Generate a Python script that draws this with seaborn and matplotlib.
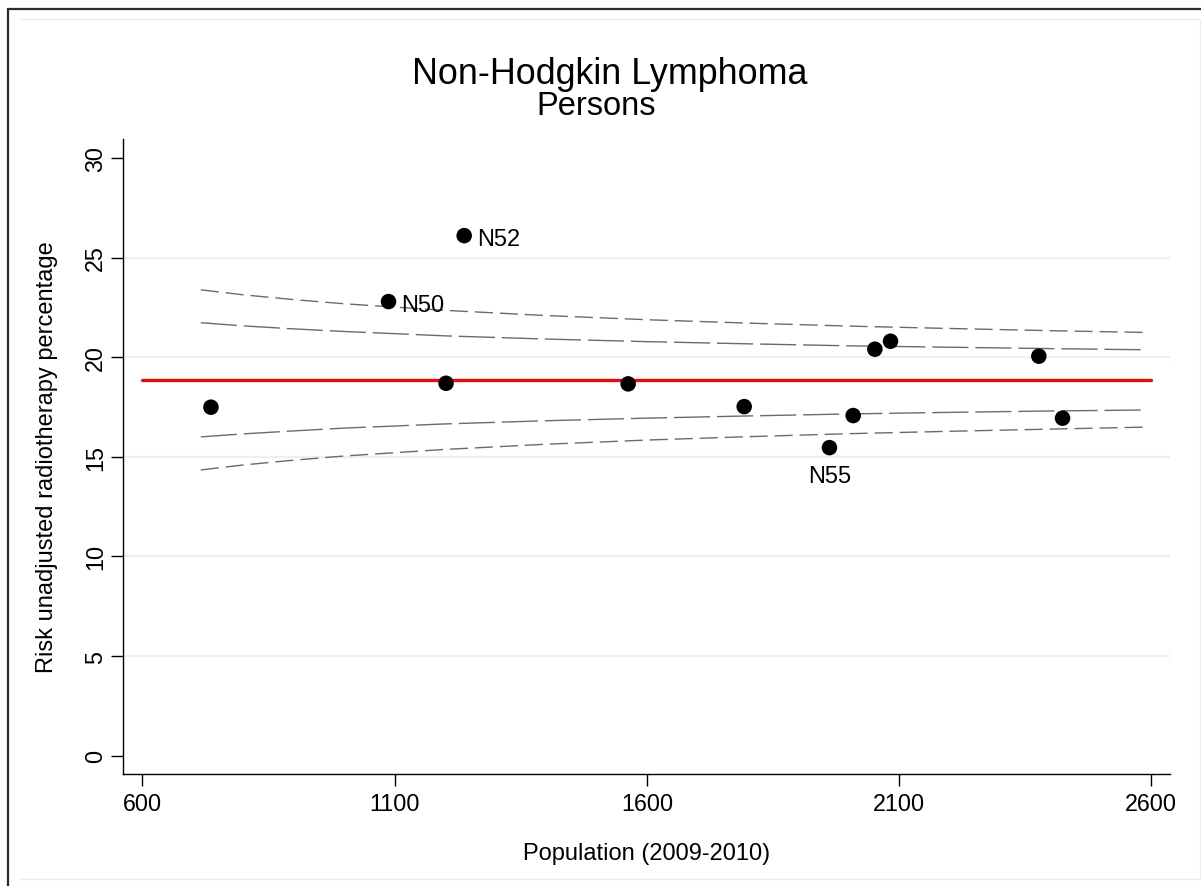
import numpy as np
import pandas as pd
import matplotlib
matplotlib.use("Agg")
import matplotlib.pyplot as plt
from matplotlib.lines import Line2D
import seaborn as sns

# ---------------- data ----------------
population = [736, 1088, 1238, 1202, 1563, 1793, 1962, 2009, 2052, 2083, 2377, 2424]
percentage = [17.49, 22.79, 26.10, 18.69, 18.66, 17.52, 15.46, 17.07, 20.40, 20.80, 20.05, 16.94]
labels = ["", "N50", "N52", "", "", "", "N55", "", "", "", "", ""]
mean_rate = 18.86
mean_x = [600, 2600]

limit_x = [716, 800, 900, 1000, 1200, 1400, 1600, 1800, 2000, 2200, 2400, 2590]
upper_998 = [23.38, 23.13, 22.89, 22.68, 22.35, 22.09, 21.88, 21.71, 21.56, 21.44, 21.33, 21.24]
upper_95 = [21.73, 21.57, 21.42, 21.29, 21.07, 20.91, 20.78, 20.67, 20.57, 20.50, 20.43, 20.37]
lower_95 = [16.00, 16.15, 16.30, 16.44, 16.65, 16.81, 16.94, 17.05, 17.15, 17.23, 17.30, 17.35]
lower_998 = [14.34, 14.59, 14.83, 15.04, 15.37, 15.63, 15.84, 16.01, 16.16, 16.28, 16.39, 16.49]

x_ticks = [600, 1100, 1600, 2100, 2600]
y_ticks = [0, 5, 10, 15, 20, 25, 30]
grid_y = [5, 10, 15, 20, 25]

title1 = "Non-Hodgkin Lymphoma"
title2 = "Persons"
x_label = "Population (2009-2010)"
y_label = "Risk unadjusted radiotherapy percentage"

# ---------------- style ----------------
sns.set_style("ticks")
plt.rcParams["font.family"] = ["Liberation Sans", "DejaVu Sans"]
plt.rcParams["text.color"] = "black"
plt.rcParams["xtick.color"] = "black"
plt.rcParams["ytick.color"] = "black"
plt.rcParams["axes.labelcolor"] = "black"

W, H = 1201, 887
fig = plt.figure(figsize=(W / 100, H / 100), dpi=100)
fig.patch.set_facecolor("white")

def fx(px):
    return px / W

def fy(py):
    return 1 - py / H

ax = fig.add_axes([fx(123.3), fy(775), fx(1170) - fx(123.3), fy(140) - fy(775)])
ax.set_facecolor("white")

# gridlines
for g in grid_y:
    ax.axhline(g, color="#EAF1F2", lw=1.6, zorder=0)

# control limits
df_lim = pd.DataFrame({"x": limit_x, "u998": upper_998, "u95": upper_95,
                       "l95": lower_95, "l998": lower_998})
for col, dash in [("u998", (13, 5)), ("l998", (13, 5)), ("u95", (26, 5)), ("l95", (26, 5))]:
    sns.lineplot(data=df_lim, x="x", y=col, ax=ax, color="#6a6a6a", lw=1.0,
                 estimator=None, sort=False, zorder=2)
    ax.lines[-1].set_dashes(dash)

# mean line
sns.lineplot(x=mean_x, y=[mean_rate, mean_rate], ax=ax, color="#FF0000", lw=2.3,
             estimator=None, zorder=3)

# points
df_pts = pd.DataFrame({"pop": population, "pct": percentage, "lab": labels})
sns.scatterplot(data=df_pts, x="pop", y="pct", ax=ax, color="black", s=125,
                edgecolor="none", linewidth=0, zorder=4)

for _, r in df_pts.iterrows():
    if r["lab"] in ("N50", "N52"):
        ax.annotate(r["lab"], (r["pop"], r["pct"]), xytext=(9.4, -7.0),
                    textcoords="offset points", ha="left", va="baseline",
                    fontsize=17, color="black", zorder=5)
    elif r["lab"] == "N55":
        ax.annotate(r["lab"], (r["pop"], r["pct"]), xytext=(0, -24.7),
                    textcoords="offset points", ha="center", va="baseline",
                    fontsize=17, color="black", zorder=5)

ax.set_xlim(562.3, 2637)
ax.set_ylim(-0.92, 30.95)
ax.set_xticks(x_ticks)
ax.set_yticks(y_ticks)
ax.set_xticklabels([str(v) for v in x_ticks], fontsize=16.8, color="black")
ax.set_yticklabels([str(v) for v in y_ticks], fontsize=16.8, rotation=90, va="center",
                   color="black")
ax.tick_params(axis="both", direction="out", length=8.8, width=1.0, color="black")
ax.tick_params(axis="x", pad=4)
ax.tick_params(axis="y", pad=2.7)
ax.set_xlabel("")
ax.set_ylabel("")

for side in ["top", "right"]:
    ax.spines[side].set_visible(False)
for side in ["left", "bottom"]:
    ax.spines[side].set_color("black")
    ax.spines[side].set_linewidth(1.0)

# titles and axis labels
fig.text(fx(610), fy(84.3), title1, ha="center", va="baseline", fontsize=25.8, color="black")
fig.text(fx(596), fy(115), title2, ha="center", va="baseline", fontsize=23.5, color="black")
fig.text(fx(646.5), fy(860), x_label, ha="center", va="baseline", fontsize=17, color="black")
fig.text(fx(47), fy(457.5), y_label, ha="center", va="center", rotation=90, fontsize=17,
         color="black")

# outer frame
dark = "#2b2b2b"
light = "#E6EEF0"
fig.add_artist(Line2D([fx(7.5), fx(7.5)], [fy(10), 0], color=dark, lw=1.6))
fig.add_artist(Line2D([fx(7.5), 1], [fy(10), fy(10)], color=dark, lw=1.6))
fig.add_artist(Line2D([fx(20), fx(1200)], [fy(20), fy(20)], color=light, lw=1.0))
fig.add_artist(Line2D([fx(1200), fx(1200)], [fy(20), fy(880)], color=light, lw=1.0))
fig.add_artist(Line2D([fx(20), fx(1200)], [fy(880), fy(880)], color=light, lw=1.0))

fig.savefig("out.png", dpi=100, facecolor="white")
